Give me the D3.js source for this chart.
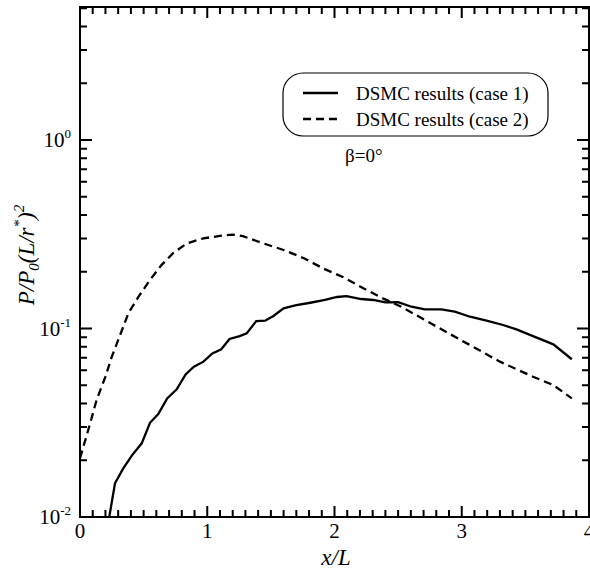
<!DOCTYPE html>
<html>
<head>
<meta charset="utf-8">
<script src="https://cdn.jsdelivr.net/npm/d3@7"></script>
<style>
  body { margin: 0; background: #fff; }
  svg { display: block; font-family: "Liberation Serif", "Times New Roman", serif; }
</style>
</head>
<body>
<div id="main"></div>
<script>
// data
const caseOneX = [0.23, 0.275, 0.34, 0.41, 0.485, 0.55, 0.615, 0.685, 0.76, 0.83, 0.895, 0.97, 1.04, 1.11, 1.175, 1.255,
  1.31, 1.385, 1.455, 1.52, 1.6, 1.7, 1.81, 1.925, 2.02, 2.095, 2.21, 2.305, 2.4, 2.5, 2.605, 2.71, 2.84, 2.945,
  3.065, 3.195, 3.325, 3.43, 3.56, 3.72, 3.865];
const caseOneY = [0.0100, 0.0151, 0.0181, 0.0213, 0.0246, 0.0316, 0.0352, 0.0426, 0.0476, 0.0571, 0.0627, 0.0667, 0.0738,
  0.0776, 0.088, 0.0912, 0.0942, 0.1096, 0.110, 0.1165, 0.128, 0.133, 0.137, 0.1417, 0.147, 0.1487, 0.1434, 0.1417,
  0.1377, 0.138, 0.1305, 0.1264, 0.1264, 0.1228, 0.1155, 0.110, 0.1044, 0.099, 0.0912, 0.0824, 0.0687];

const caseTwoX = [0.0, 0.08, 0.13, 0.2, 0.25, 0.31, 0.38, 0.46, 0.55, 0.64, 0.73, 0.84, 0.97, 1.1, 1.2, 1.28, 1.44,
  1.6, 1.76, 1.91, 2.07, 2.23, 2.38, 2.52, 2.78, 3.04, 3.3, 3.56, 3.72, 3.865];
const caseTwoY = [0.0205, 0.0314, 0.0417, 0.0555, 0.0709, 0.0904, 0.1205, 0.1475, 0.181, 0.217, 0.2505, 0.283, 0.301,
  0.31, 0.315, 0.309, 0.283, 0.261, 0.236, 0.2085, 0.187, 0.163, 0.1445, 0.131, 0.1044, 0.0834, 0.0667, 0.0555,
  0.0501, 0.0426];

const xTicks = [0, 1, 2, 3, 4];
const yMajor = [0.01, 0.1, 1];
const yMajorExp = ["-2", "-1", "0"];
const legendLabels = ["DSMC results (case 1)", "DSMC results (case 2)"];

const chartWidth = 590, chartHeight = 571;
const plotLeft = 80, plotRight = 589, plotTop = 7, plotBottom = 517;

const xScale = d3.scaleLinear().domain([0, 4]).range([plotLeft, plotRight]);
const yScale = d3.scaleLog().domain([0.01, 5.08]).range([plotBottom, plotTop]);

const svg = d3.select("#main").append("svg")
  .attr("width", chartWidth)
  .attr("height", chartHeight);

// curves, clipped to the plot
svg.append("clipPath").attr("id", "plotclip")
  .append("rect").attr("x", plotLeft).attr("y", plotTop)
  .attr("width", plotRight - plotLeft).attr("height", plotBottom - plotTop);

const line = d3.line().x(d => xScale(d[0])).y(d => yScale(d[1]));
const caseOne = caseOneX.map((x, i) => [x, caseOneY[i]]);
const caseTwo = caseTwoX.map((x, i) => [x, caseTwoY[i]]);

const curves = svg.append("g").attr("clip-path", "url(#plotclip)");
curves.append("path").datum(caseOne)
  .attr("d", line).attr("fill", "none")
  .attr("stroke", "#000").attr("stroke-width", 2.3);
curves.append("path").datum(caseTwo)
  .attr("d", line).attr("fill", "none")
  .attr("stroke", "#000").attr("stroke-width", 2.3)
  .attr("stroke-dasharray", "8,5");

// tick values
const xMinor = [];
for (let i = 1; i < 40; i++) if (i % 10 !== 0) xMinor.push(i / 10);
const yMinor = [];
yMajor.forEach(d => { for (let k = 2; k <= 9; k++) if (d * k <= 5.08) yMinor.push(d * k); });

// all tick marks in one path, on all four sides, pointing inward
let tickPath = "";
xMinor.forEach(v => { const x = xScale(v); tickPath += `M${x},${plotBottom}V${plotBottom - 7}M${x},${plotTop}V${plotTop + 7}`; });
xTicks.forEach(v => { const x = xScale(v); tickPath += `M${x},${plotBottom}V${plotBottom - 11}M${x},${plotTop}V${plotTop + 11}`; });
yMinor.forEach(v => { const y = yScale(v); tickPath += `M${plotLeft},${y}H${plotLeft + 7}M${plotRight},${y}H${plotRight - 7}`; });
yMajor.forEach(v => { const y = yScale(v); tickPath += `M${plotLeft},${y}H${plotLeft + 12}M${plotRight},${y}H${plotRight - 12}`; });

svg.append("path")
  .attr("d", tickPath)
  .attr("fill", "none")
  .attr("stroke", "#000")
  .attr("stroke-width", 2);

// frame
svg.append("path")
  .attr("d", `M${plotLeft},${plotTop}H${plotRight}V${plotBottom}H${plotLeft}Z`)
  .attr("fill", "none").attr("stroke", "#000").attr("stroke-width", 2);

// x tick labels
svg.selectAll(".xlab").data(xTicks).enter().append("text")
  .attr("class", "xlab")
  .attr("x", d => xScale(d))
  .attr("y", plotBottom + 21)
  .attr("text-anchor", "middle")
  .attr("font-size", 21)
  .text(d => d);

// y tick labels with exponents
const ylab = svg.selectAll(".ylab").data(yMajor).enter().append("text")
  .attr("class", "ylab")
  .attr("x", plotLeft - 9)
  .attr("y", d => yScale(d) + 7)
  .attr("text-anchor", "end")
  .attr("font-size", 21);
ylab.append("tspan").text("10");
ylab.append("tspan").attr("dy", -9).attr("font-size", 13).text((d, i) => yMajorExp[i]);

// axis titles
svg.append("text")
  .attr("x", 336).attr("y", 565)
  .attr("text-anchor", "middle")
  .attr("font-size", 23)
  .attr("font-style", "italic")
  .text("x/L");

const yTitle = svg.append("text")
  .attr("transform", "translate(34, 255) rotate(-90)")
  .attr("text-anchor", "middle")
  .attr("font-size", 23)
  .attr("font-style", "italic");
yTitle.append("tspan").text("P/P");
yTitle.append("tspan").attr("dy", 5).attr("font-size", 15).text("0");
yTitle.append("tspan").attr("dy", -5).text("(L/r");
yTitle.append("tspan").attr("dy", -10).attr("font-size", 15).text("*");
yTitle.append("tspan").attr("dy", 10).text(")");
yTitle.append("tspan").attr("dy", -10).attr("font-size", 15).text("2");

// legend
const legend = svg.append("g");
legend.append("rect")
  .attr("x", 283).attr("y", 73)
  .attr("width", 265).attr("height", 63)
  .attr("rx", 20).attr("ry", 20)
  .attr("fill", "#fff").attr("stroke", "#000").attr("stroke-width", 1.2);

legendLabels.forEach((lab, i) => {
  const yy = 93 + i * 26;
  legend.append("line")
    .attr("x1", 303).attr("x2", 338)
    .attr("y1", yy).attr("y2", yy)
    .attr("stroke", "#000").attr("stroke-width", 2.3)
    .attr("stroke-dasharray", i === 1 ? "8,5" : null);
  legend.append("text")
    .attr("x", 356).attr("y", yy + 7)
    .attr("font-size", 19)
    .text(lab);
});

svg.append("text")
  .attr("x", 345).attr("y", 162)
  .attr("font-size", 19)
  .text("β=0°");
</script>
</body>
</html>
